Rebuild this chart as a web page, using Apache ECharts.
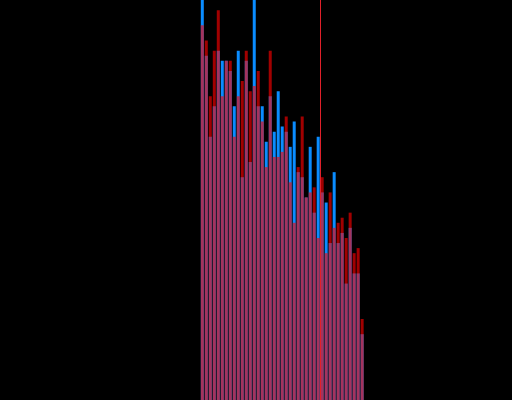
<!DOCTYPE html>
<html>
<head>
<meta charset="utf-8">
<style>
  html, body { margin: 0; padding: 0; background: #000; }
  #chart { width: 512px; height: 400px; }
</style>
<script src="https://cdn.jsdelivr.net/npm/echarts@6/dist/echarts.min.js"></script>
</head>
<body>
<div id="chart"></div>
<script>
// Histogram bins 50..90 on a 0..128 bin scale
const binStart = 50;
const binCount = 128;
const markerBin = 80;

const blueValues = [79, 68, 52, 58, 69, 67, 67, 65, 58, 69,
                    44, 67, 47, 79, 58, 58, 51, 60, 53, 61,
                    54, 53, 50, 55, 45, 44, 40, 50, 37, 52,
                    41, 39, 31, 45, 31, 33, 23, 34, 25, 25,
                    13];
const redValues = [74, 71, 60, 69, 77, 60, 67, 67, 52, 60,
                   63, 69, 61, 62, 65, 55, 46, 69, 48, 48,
                   49, 56, 43, 35, 46, 56, 40, 41, 42, 32,
                   44, 29, 41, 34, 35, 36, 32, 37, 29, 30,
                   16];

// Each bar sits in the middle of its bin
const toPoints = vals => vals.map((v, i) => [binStart + i + 0.5, v]);

const chart = echarts.init(document.getElementById('chart'), null, { renderer: 'canvas' });
chart.setOption({
  animation: false,
  backgroundColor: '#000',
  grid: { left: 0.5, right: -0.5, top: 0, bottom: 0 },
  xAxis: {
    type: 'value', min: 0, max: binCount,
    show: false
  },
  yAxis: {
    type: 'value', min: 0, max: 79,
    show: false
  },
  series: [
    {
      name: 'A',
      type: 'bar',
      barWidth: 3,
      barGap: '-100%',
      itemStyle: { color: '#0a8cff' },
      data: toPoints(blueValues)
    },
    {
      name: 'B',
      type: 'bar',
      barWidth: 3,
      barGap: '-100%',
      itemStyle: { color: '#ff0000', opacity: 0.63 },
      data: toPoints(redValues),
      markLine: {
        silent: true,
        symbol: 'none',
        label: { show: false },
        lineStyle: { color: '#e0202a', width: 1, type: 'solid', opacity: 1 },
        data: [{ xAxis: markerBin }]
      }
    }
  ]
});
</script>
</body>
</html>
